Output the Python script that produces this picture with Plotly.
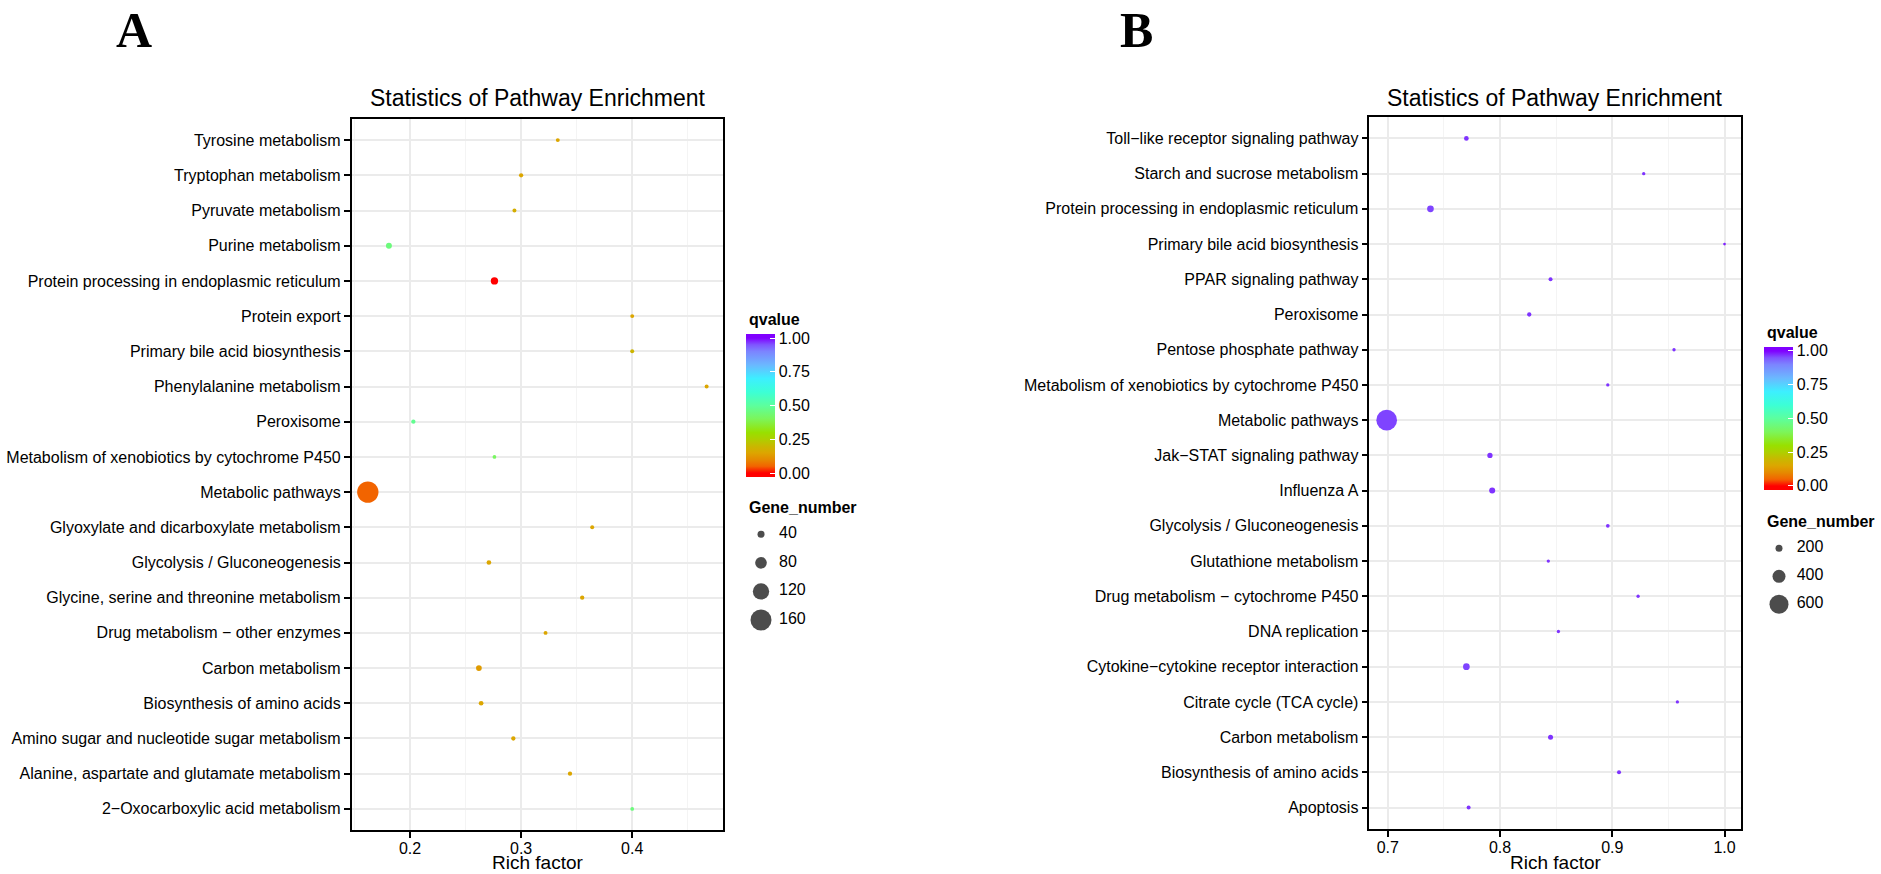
import plotly.graph_objects as go

W, H = 1881, 874
FONT = "Liberation Sans, Arial, Helvetica, sans-serif"
SERIF = "Liberation Serif, Times New Roman, serif"

# ---------------- Panel A data (top -> bottom) ----------------
pathways_a = [
    "Tyrosine metabolism", "Tryptophan metabolism", "Pyruvate metabolism", "Purine metabolism",
    "Protein processing in endoplasmic reticulum", "Protein export", "Primary bile acid biosynthesis",
    "Phenylalanine metabolism", "Peroxisome", "Metabolism of xenobiotics by cytochrome P450",
    "Metabolic pathways", "Glyoxylate and dicarboxylate metabolism", "Glycolysis / Gluconeogenesis",
    "Glycine, serine and threonine metabolism", "Drug metabolism \u2212 other enzymes", "Carbon metabolism",
    "Biosynthesis of amino acids", "Amino sugar and nucleotide sugar metabolism",
    "Alanine, aspartate and glutamate metabolism", "2\u2212Oxocarboxylic acid metabolism",
]
rich_a = [0.333, 0.300, 0.294, 0.181, 0.276, 0.400, 0.400, 0.467, 0.203, 0.276,
          0.162, 0.364, 0.271, 0.355, 0.322, 0.262, 0.264, 0.293, 0.344, 0.400]
qvalue_a = [0.15, 0.15, 0.17, 0.45, 0.0, 0.15, 0.19, 0.15, 0.48, 0.41,
            0.05, 0.15, 0.15, 0.15, 0.15, 0.13, 0.15, 0.15, 0.15, 0.45]
genes_a = [14, 17, 14, 31, 43, 14, 14, 14, 17, 12,
           163, 14, 20, 17, 14, 29, 20, 17, 17, 12]
size_breaks_a = [40, 80, 120, 160]
xticks_a = [0.2, 0.3, 0.4]

# ---------------- Panel B data (top -> bottom) ----------------
pathways_b = [
    "Toll\u2212like receptor signaling pathway", "Starch and sucrose metabolism",
    "Protein processing in endoplasmic reticulum", "Primary bile acid biosynthesis",
    "PPAR signaling pathway", "Peroxisome", "Pentose phosphate pathway",
    "Metabolism of xenobiotics by cytochrome P450", "Metabolic pathways",
    "Jak\u2212STAT signaling pathway", "Influenza A", "Glycolysis / Gluconeogenesis",
    "Glutathione metabolism", "Drug metabolism \u2212 cytochrome P450", "DNA replication",
    "Cytokine\u2212cytokine receptor interaction", "Citrate cycle (TCA cycle)",
    "Carbon metabolism", "Biosynthesis of amino acids", "Apoptosis",
]
rich_b = [0.770, 0.928, 0.738, 1.000, 0.845, 0.826, 0.955, 0.896, 0.699, 0.791,
          0.793, 0.896, 0.843, 0.923, 0.852, 0.770, 0.958, 0.845, 0.906, 0.772]
qvalue_b = [0.97, 0.97, 0.96, 0.98, 0.97, 0.97, 0.97, 0.97, 0.96, 0.97,
            0.97, 0.97, 0.97, 0.97, 0.97, 0.96, 0.97, 0.97, 0.97, 0.97]
genes_b = [123, 77, 190, 57, 100, 110, 77, 77, 655, 143,
           167, 90, 77, 77, 77, 190, 77, 133, 100, 100]
size_breaks_b = [200, 400, 600]
xticks_b = [0.7, 0.8, 0.9, 1.0]

qvalue_ticks = [0.0, 0.25, 0.5, 0.75, 1.0]

# ---------------- styling ----------------
COLOR_STOPS = [
    (0.00, "#FF0000"), (0.05, "#F26400"), (0.10, "#E58A00"), (0.15, "#DCA600"),
    (0.20, "#C8B800"), (0.25, "#AECF00"), (0.30, "#98E000"), (0.40, "#7CF55A"),
    (0.50, "#5CFF9E"), (0.60, "#3CFFD6"), (0.70, "#3DEFFF"), (0.80, "#6BB8FF"),
    (0.90, "#7C84FF"), (0.95, "#7F55FF"), (1.00, "#8000FF"),
]
CB_PAD = 0.0296  # the colour bar runs half a bin beyond 0 and 1, like ggplot's
CMIN, CMAX = -CB_PAD, 1 + CB_PAD
COLORSCALE = ([[0.0, COLOR_STOPS[0][1]]]
              + [[(q - CMIN) / (CMAX - CMIN), c] for q, c in COLOR_STOPS]
              + [[1.0, COLOR_STOPS[-1][1]]])

# size scale: diameter(px) = base + k * gene_number
SIZE_A = (2.33, 0.1167)
SIZE_B = (1.0, 0.03)


def sizes(vals, scale):
    return [scale[0] + scale[1] * v for v in vals]


def px_x(p):
    return p / W


def px_y(p):
    return 1 - p / H


fig = go.Figure()


def colorbar(x_left, y_mid):
    return dict(
        x=px_x(x_left), xanchor="left", xpad=0,
        y=px_y(y_mid), yanchor="middle", ypad=0,
        len=143, lenmode="pixels", thickness=29, thicknessmode="pixels",
        outlinewidth=0, tickvals=qvalue_ticks, tickformat=".2f",
        ticks="inside", ticklen=5, tickwidth=1.3, tickcolor="white",
        tickfont=dict(size=16, color="black", family=FONT),
    )


fig.add_trace(go.Scatter(
    x=rich_a, y=pathways_a, mode="markers", xaxis="x", yaxis="y", showlegend=False,
    marker=dict(size=sizes(genes_a, SIZE_A), sizemode="diameter", color=qvalue_a,
                colorscale=COLORSCALE, cmin=CMIN, cmax=CMAX, opacity=1, line=dict(width=0),
                showscale=True, colorbar=colorbar(746, 405.5)),
))
fig.add_trace(go.Scatter(
    x=rich_b, y=pathways_b, mode="markers", xaxis="x2", yaxis="y2", showlegend=False,
    marker=dict(size=sizes(genes_b, SIZE_B), sizemode="diameter", color=qvalue_b,
                colorscale=COLORSCALE, cmin=CMIN, cmax=CMAX, opacity=1, line=dict(width=0),
                showscale=True, colorbar=colorbar(1764, 418.3)),
))

# size legends
for xa, ya, breaks, scale in (("x3", "y3", size_breaks_a, SIZE_A), ("x4", "y4", size_breaks_b, SIZE_B)):
    fig.add_trace(go.Scatter(
        x=[0] * len(breaks), y=breaks, mode="markers", xaxis=xa, yaxis=ya,
        showlegend=False, hoverinfo="skip", cliponaxis=False,
        marker=dict(size=sizes(breaks, scale), color="black", line=dict(width=0)),
    ))
    fig.add_trace(go.Scatter(
        x=[1] * len(breaks), y=breaks, mode="text", xaxis=xa, yaxis=ya,
        showlegend=False, hoverinfo="skip", cliponaxis=False, text=[str(v) for v in breaks],
        textposition="middle right", textfont=dict(size=16, color="black", family=FONT),
    ))


def xaxis(dom_px, rng, ticks, anchor):
    return dict(
        anchor=anchor,
        domain=[px_x(dom_px[0]), px_x(dom_px[1])], range=rng,
        tickvals=ticks, tickformat=".1f",
        showgrid=True, gridcolor="#EBEBEB", gridwidth=1.5,
        minor=dict(dtick=0.05, tick0=0, showgrid=True, gridcolor="#F4F4F4", gridwidth=0.8, ticks=""),
        showline=True, mirror=True, linecolor="black", linewidth=1.6,
        ticks="outside", ticklen=6, tickwidth=1.6, tickcolor="black",
        ticklabelstandoff=-3,
        tickfont=dict(size=16, color="black", family=FONT), zeroline=False,
        fixedrange=True,
    )


def yaxis(dom_px, cats, anchor):
    return dict(
        anchor=anchor,
        domain=[px_y(dom_px[1]), px_y(dom_px[0])], type="category",
        categoryorder="array", categoryarray=list(reversed(cats)),
        range=[-0.6, len(cats) - 0.4],
        showgrid=True, gridcolor="#EBEBEB", gridwidth=1.5,
        showline=True, mirror=True, linecolor="black", linewidth=1.6,
        ticks="outside", ticklen=6, tickwidth=1.6, tickcolor="black",
        tickfont=dict(size=16, color="black", family=FONT), zeroline=False,
        fixedrange=True,
    )


def hidden(dom, rng, anchor):
    return dict(domain=dom, range=rng, visible=False, fixedrange=True, anchor=anchor)


def note(text, x, y, size, xanchor="center", yanchor="middle", family=FONT, pad=1):
    return dict(text=text, x=x, y=y, xref="paper", yref="paper", showarrow=False,
                xanchor=xanchor, yanchor=yanchor, borderpad=pad,
                font=dict(size=size, color="black", family=family))


fig.update_layout(
    width=W, height=H, margin=dict(l=0, r=0, t=0, b=0),
    paper_bgcolor="white", plot_bgcolor="white",
    font=dict(family=FONT, color="black"),
    xaxis=xaxis((351.7, 723.3), [0.1475, 0.482], xticks_a, "y"),
    yaxis=yaxis((119, 830), pathways_a, "x"),
    xaxis2=xaxis((1369.4, 1740.8), [0.6836, 1.0145], xticks_b, "y2"),
    yaxis2=yaxis((117.3, 828.7), pathways_b, "x2"),
    xaxis3=hidden([px_x(761), px_x(779)], [0, 1], "y3"),
    yaxis3=hidden([px_y(634.3), px_y(520)], [180, 20], "x3"),
    xaxis4=hidden([px_x(1779), px_x(1796.7)], [0, 1], "y4"),
    yaxis4=hidden([px_y(618.3), px_y(534.3)], [700, 100], "x4"),
    annotations=[
        note("<b>A</b>", px_x(134), 1.0, 50, yanchor="top", family=SERIF),
        note("<b>B</b>", px_x(1136.5), 1.0, 50, yanchor="top", family=SERIF),
        note("Statistics of Pathway Enrichment", px_x(537.5), px_y(98), 23),
        note("Statistics of Pathway Enrichment", px_x(1555.1), px_y(98), 23),
        note("Rich factor", px_x(537.5), 0.0, 19, yanchor="bottom", pad=0),
        note("Rich factor", px_x(1555.1), 0.0, 19, yanchor="bottom", pad=0),
        note("<b>qvalue</b>", px_x(747), px_y(319.5), 16, xanchor="left"),
        note("<b>Gene_number</b>", px_x(747), px_y(507.7), 16, xanchor="left"),
        note("<b>qvalue</b>", px_x(1765), px_y(333), 16, xanchor="left"),
        note("<b>Gene_number</b>", px_x(1765), px_y(521.3), 16, xanchor="left"),
    ],
)

# the page's default 8px body margin would shift the whole figure; remove it
fig.write_html("out.html", config={"displayModeBar": False},
               post_script="document.body.style.margin='0px';")
